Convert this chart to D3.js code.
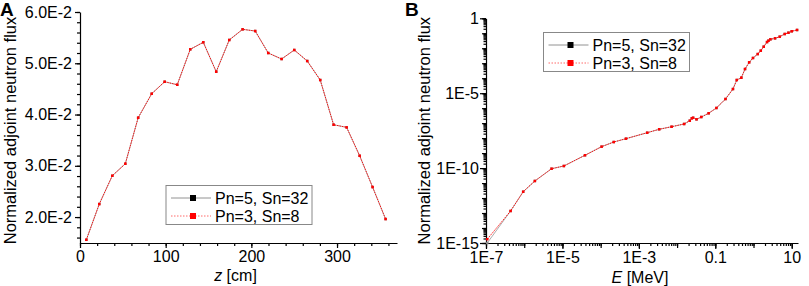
<!DOCTYPE html>
<html>
<head>
<meta charset="utf-8">
<script src="https://cdn.jsdelivr.net/npm/d3@7"></script>
<style>
  body { margin: 0; background: #fff; }
  svg { display: block; font-family: "Liberation Sans", Arial, sans-serif; }
  .axis path, .axis line { stroke: #000; stroke-width: 1.2; }
  .axis text { font-size: 16px; fill: #000; font-family: "Liberation Sans", Arial, sans-serif; }
</style>
</head>
<body>
<svg id="chart" width="809" height="286"></svg>
<script>
// Panel A: adjoint flux vs axial position z
const zA = [7.4, 22.5, 37.7, 52.9, 67.9, 83.7, 98.8, 113.5, 128.7, 143.9, 159.0, 174.2,
            189.8, 204.5, 219.7, 235.3, 250.1, 265.2, 280.4, 296.0, 311.2, 326.4, 341.5, 356.7];
const fluxA_P5S32 = [0.01557, 0.02254, 0.02806, 0.0304, 0.03938, 0.04406, 0.0464, 0.04581,
                     0.05272, 0.05409, 0.04835, 0.05454, 0.05662, 0.05629, 0.052, 0.05083,
                     0.05259, 0.05044, 0.04673, 0.03801, 0.0375, 0.03196, 0.02585, 0.01961];
const fluxA_P3S8 = [0.01557, 0.02254, 0.02806, 0.0304, 0.03938, 0.04406, 0.0464, 0.04581,
                    0.05272, 0.05409, 0.04835, 0.05454, 0.05662, 0.05629, 0.052, 0.05083,
                    0.05259, 0.05044, 0.04673, 0.03801, 0.0375, 0.03196, 0.02585, 0.01961];
const ticksA_x = [0, 100, 200, 300];
const ticksA_y = [0.02, 0.03, 0.04, 0.05, 0.06];

// Panel B: adjoint flux vs energy E
const energyB = [1.08e-7, 4.4e-7, 9.4e-7, 1.9e-6, 5.2e-6, 1.09e-5, 3.9e-5, 1.06e-4, 2.2e-4, 4.6e-4,
                 1.65e-3, 3.4e-3, 7.2e-3, 1.53e-2, 2.15e-2, 2.43e-2, 2.63e-2, 3.23e-2, 4.3e-2, 6.7e-2,
                 0.107, 0.185, 0.29, 0.365, 0.48, 0.6, 0.77, 0.97, 1.29, 1.55,
                 1.85, 2.26, 2.46, 2.77, 3.66, 4.85, 6.56, 8.2, 10, 13.8];
const fluxB_P5S32 = [1.0e-15, 1.37e-13, 2.65e-12, 1.38e-11, 9.1e-11, 1.38e-10, 7.2e-10, 2.7e-9, 5.5e-9, 9.2e-9,
                     2.3e-8, 3.9e-8, 5.8e-8, 8.8e-8, 1.46e-7, 2.1e-7, 2.3e-7, 1.8e-7, 2.57e-7, 4.57e-7,
                     1.03e-6, 4.1e-6, 1.9e-5, 7.6e-5, 1.08e-4, 4.1e-4, 1.15e-3, 2.24e-3, 4.1e-3, 6.9e-3,
                     1.27e-2, 2.6e-2, 3.2e-2, 3.96e-2, 4.6e-2, 5.9e-2, 8.95e-2, 0.109, 0.136, 0.166];
const fluxB_P3S8 = [1.8e-15, 1.37e-13, 2.65e-12, 1.38e-11, 9.1e-11, 1.38e-10, 7.2e-10, 2.7e-9, 5.5e-9, 9.2e-9,
                    2.3e-8, 3.9e-8, 5.8e-8, 8.8e-8, 1.46e-7, 2.1e-7, 2.3e-7, 1.8e-7, 2.57e-7, 4.57e-7,
                    1.03e-6, 4.1e-6, 1.9e-5, 7.6e-5, 1.08e-4, 4.1e-4, 1.15e-3, 2.24e-3, 4.1e-3, 6.9e-3,
                    1.27e-2, 2.6e-2, 3.2e-2, 3.96e-2, 4.6e-2, 5.9e-2, 8.95e-2, 0.109, 0.136, 0.166];
const ticksB_x = [1e-7, 1e-5, 1e-3, 0.1, 10];
const labelsB_x = ['1E-7', '1E-5', '1E-3', '0.1', '10'];
const ticksB_y = [1e-15, 1e-10, 1e-5, 1];
const labelsB_y = ['1E-15', '1E-10', '1E-5', '1'];

const seriesNames = ['Pn=5, Sn=32', 'Pn=3, Sn=8'];

const svg = d3.select('#chart');
svg.append('rect').attr('width', 809).attr('height', 286).attr('fill', '#fff');

// log minor ticks (2..9 per decade) inside a domain
function logMinor(lo, hi) {
  const out = [];
  for (let e = Math.floor(Math.log10(lo)); e <= Math.ceil(Math.log10(hi)); e++) {
    for (let m = 1; m <= 9; m++) {
      const v = m * Math.pow(10, e);
      if (v >= lo * 0.999 && v <= hi * 1.001) out.push(v);
    }
  }
  return out;
}

function drawSeries(g, x, y, xs, ys, color, dash, width, size) {
  const pts = xs.map((d, i) => [d, ys[i]]);
  g.append('path')
    .datum(pts)
    .attr('fill', 'none')
    .attr('stroke', color)
    .attr('stroke-width', width)
    .attr('stroke-dasharray', dash)
    .attr('d', d3.line().x(d => x(d[0])).y(d => y(d[1])));
  g.selectAll(null)
    .data(pts)
    .enter().append('rect')
    .attr('x', d => x(d[0]) - size / 2)
    .attr('y', d => y(d[1]) - size / 2)
    .attr('width', size)
    .attr('height', size)
    .attr('fill', color);
}

function drawLegend(g, left, top) {
  const w = 146, h = 39;
  g.append('rect')
    .attr('x', left).attr('y', top).attr('width', w).attr('height', h)
    .attr('fill', '#fff').attr('stroke', '#888').attr('stroke-width', 1);
  const styles = [
    { color: '#777', dash: null, mark: '#000' },
    { color: '#f44', dash: '1.5,1.5', mark: '#f00' }
  ];
  seriesNames.forEach((name, i) => {
    const cy = top + 12.5 + i * 18;
    g.append('line')
      .attr('x1', left + 5).attr('x2', left + 45)
      .attr('y1', cy).attr('y2', cy)
      .attr('stroke', styles[i].color)
      .attr('stroke-width', 0.8)
      .attr('stroke-dasharray', styles[i].dash);
    g.append('rect')
      .attr('x', left + 24).attr('y', cy - 3).attr('width', 6).attr('height', 6)
      .attr('fill', styles[i].mark);
    g.append('text')
      .attr('x', left + 49).attr('y', cy)
      .attr('dy', '0.36em')
      .style('font-size', '16px')
      .text(name);
  });
}

// ---------------- Panel A ----------------
{
  const left = 80, right = 397, top = 12, bottom = 243;
  const x = d3.scaleLinear().domain([0, 370]).range([left, right]);
  const y = d3.scaleLinear().domain([0.01494, 0.06]).range([bottom, top]);
  const g = svg.append('g');

  // minor ticks
  g.append('g').attr('class', 'axis')
    .attr('transform', `translate(0,${bottom})`)
    .call(d3.axisBottom(x).tickValues(d3.range(0, 371, 20)).tickSize(3).tickFormat(''))
    .select('.domain').remove();
  g.append('g').attr('class', 'axis')
    .attr('transform', `translate(${left},0)`)
    .call(d3.axisLeft(y).tickValues(d3.range(0.016, 0.0601, 0.002)).tickSize(3).tickFormat(''))
    .select('.domain').remove();

  // major ticks
  g.append('g').attr('class', 'axis')
    .attr('transform', `translate(0,${bottom})`)
    .call(d3.axisBottom(x).tickValues(ticksA_x).tickSize(5).tickSizeOuter(0).tickPadding(3));
  g.append('g').attr('class', 'axis')
    .attr('transform', `translate(${left},0)`)
    .call(d3.axisLeft(y).tickValues(ticksA_y).tickSize(5).tickSizeOuter(0).tickPadding(3)
      .tickFormat(d => (d * 100).toFixed(1) + 'E-2'));

  drawSeries(g, x, y, zA, fluxA_P5S32, '#888', null, 0.7, 2.5);
  drawSeries(g, x, y, zA, fluxA_P3S8, '#f00', '1.5,1', 0.9, 2.5);

  drawLegend(g, 166, 185.5);

  // axis titles
  const xt = g.append('text')
    .attr('x', (left + right) / 2 - 3).attr('y', 281)
    .attr('text-anchor', 'middle')
    .style('font-size', '16px');
  xt.append('tspan').style('font-style', 'italic').text('z');
  xt.append('tspan').text(' [cm]');

  g.append('text')
    .attr('transform', `translate(16,${(top + bottom) / 2 + 3}) rotate(-90)`)
    .attr('text-anchor', 'middle')
    .style('font-size', '16.5px')
    .text('Normalized adjoint neutron flux');

  g.append('text')
    .attr('x', 0).attr('y', 16)
    .style('font-size', '19px').style('font-weight', 'bold')
    .text('A');
}

// ---------------- Panel B ----------------
{
  const left = 486, right = 798, top = 18.3, bottom = 243;
  const x = d3.scaleLog().domain([1e-7, 14.6]).range([left, right]);
  const y = d3.scaleLog().domain([1e-15, 1]).range([bottom, top]);
  const g = svg.append('g');

  // minor ticks
  g.append('g').attr('class', 'axis')
    .attr('transform', `translate(0,${bottom})`)
    .call(d3.axisBottom(x).tickValues(logMinor(1e-7, 14.6)).tickSize(3).tickFormat(''))
    .select('.domain').remove();
  g.append('g').attr('class', 'axis')
    .attr('transform', `translate(${left},0)`)
    .call(d3.axisLeft(y).tickValues(logMinor(1e-15, 1)).tickSize(2.5).tickFormat(''))
    .select('.domain').remove();
  // decade ticks
  g.append('g').attr('class', 'axis')
    .attr('transform', `translate(0,${bottom})`)
    .call(d3.axisBottom(x).tickValues(d3.range(-7, 2).map(e => Math.pow(10, e))).tickSize(5).tickFormat(''))
    .select('.domain').remove();
  g.append('g').attr('class', 'axis')
    .attr('transform', `translate(${left},0)`)
    .call(d3.axisLeft(y).tickValues(d3.range(-15, 1).map(e => Math.pow(10, e))).tickSize(4).tickFormat(''))
    .select('.domain').remove();

  // major ticks with labels
  g.append('g').attr('class', 'axis')
    .attr('transform', `translate(0,${bottom})`)
    .call(d3.axisBottom(x).tickValues(ticksB_x).tickSize(6).tickSizeOuter(0).tickPadding(3)
      .tickFormat((d, i) => labelsB_x[i]));
  g.append('g').attr('class', 'axis')
    .attr('transform', `translate(${left},0)`)
    .call(d3.axisLeft(y).tickValues(ticksB_y).tickSize(6).tickSizeOuter(0).tickPadding(1)
      .tickFormat((d, i) => labelsB_y[i]));

  drawSeries(g, x, y, energyB, fluxB_P5S32, '#888', null, 0.7, 2.5);
  drawSeries(g, x, y, energyB, fluxB_P3S8, '#f00', '1.5,1', 0.9, 2.5);

  drawLegend(g, 543.5, 32.5);

  const xt = g.append('text')
    .attr('x', 640).attr('y', 283)
    .attr('text-anchor', 'middle')
    .style('font-size', '16px');
  xt.append('tspan').style('font-style', 'italic').text('E');
  xt.append('tspan').text(' [MeV]');

  g.append('text')
    .attr('transform', `translate(430,${(top + bottom) / 2}) rotate(-90)`)
    .attr('text-anchor', 'middle')
    .style('font-size', '16.5px')
    .text('Normalized adjoint neutron flux');

  g.append('text')
    .attr('x', 405).attr('y', 16)
    .style('font-size', '19px').style('font-weight', 'bold')
    .text('B');
}
</script>
</body>
</html>
